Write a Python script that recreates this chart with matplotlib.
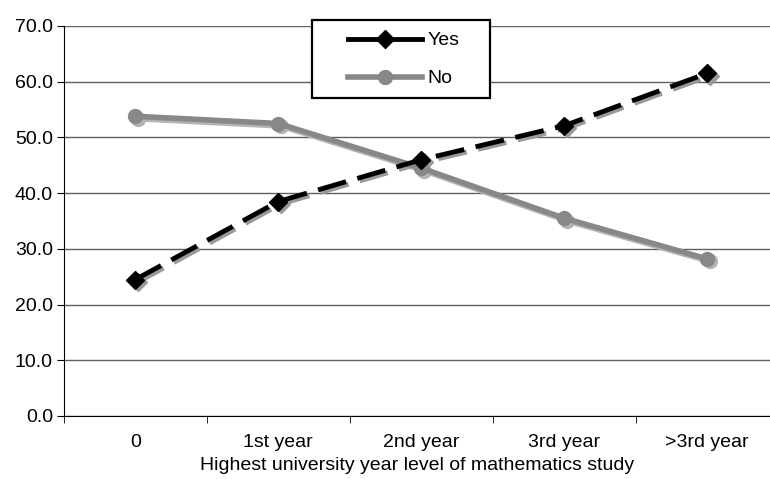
import matplotlib
matplotlib.use("Agg")
import matplotlib.pyplot as plt
from matplotlib.transforms import ScaledTranslation
from matplotlib.patches import Rectangle

categories = ["0", "1st year", "2nd year", "3rd year", ">3rd year"]
yes_vals = [24.5, 38.5, 46.0, 52.1, 61.5]
no_vals = [53.8, 52.5, 44.5, 35.5, 28.2]

plt.rcParams['font.family'] = ['Liberation Sans', 'DejaVu Sans']
FS = 14

W, H = 770, 479
fig = plt.figure(figsize=(W/100, H/100), dpi=100)
ax = fig.add_axes([64/W, 1 - 416/H, 706/W, 390/H])

x = list(range(len(categories)))
off = ScaledTranslation(2.5/100, -2.5/100, fig.dpi_scale_trans)
DASH = (0, (6, 2.4))

# shadows
ax.plot(x, yes_vals, color='#999999', lw=3.5, ls=DASH, marker='D', ms=9,
        markerfacecolor='#999999', markeredgecolor='#999999', transform=ax.transData + off, zorder=3)
ax.plot(x, no_vals, color='#b4b4b4', lw=4, marker='o', ms=10,
        markerfacecolor='#b4b4b4', markeredgecolor='#b4b4b4', transform=ax.transData + off, zorder=2)

ax.plot(x, no_vals, color='#888888', lw=4, marker='o', ms=10,
        markerfacecolor='#888888', markeredgecolor='#888888', label='No', zorder=3.5)
ax.plot(x, yes_vals, color='black', lw=3.5, ls=DASH, marker='D', ms=9,
        markerfacecolor='black', markeredgecolor='black', label='Yes', zorder=4)

ax.set_xlim(-0.5, 4.44)
ax.set_ylim(0, 70)
ax.set_yticks(range(0, 71, 10))
ax.set_yticklabels([f"{v:.1f}" for v in range(0, 71, 10)], fontsize=FS)
ax.set_xticks(x)
ax.set_xticklabels(categories, fontsize=FS)
ax.set_xticks([i - 0.5 for i in range(5)], minor=True)
ax.tick_params(axis='x', which='major', length=0, pad=13)
ax.tick_params(axis='x', which='minor', length=5, direction='out', color='black')
ax.tick_params(axis='y', length=5, direction='out', color='black', pad=3)
ax.yaxis.grid(True, color='#606060', lw=1)
ax.set_axisbelow(True)
for s in ['top', 'right']:
    ax.spines[s].set_visible(False)
ax.spines['left'].set_color('black')
ax.spines['bottom'].set_color('black')
ax.set_xlabel("Highest university year level of mathematics study", fontsize=FS, labelpad=4)

# legend frame (pixel box 312..490 x 20..98)
ax_x0 = 64
def ax_coords(px, py):
    return (px - ax_x0) / 706, (416 - py) / 390
bx0, by0 = ax_coords(312, 98)
bx1, by1 = ax_coords(490, 20)
frame = Rectangle((bx0, by0), bx1 - bx0, by1 - by0, transform=ax.transAxes,
                  facecolor='white', edgecolor='black', lw=1.6, zorder=9, clip_on=False)
ax.add_patch(frame)

handles, labels = ax.get_legend_handles_labels()
order = [1, 0]
lx, ly = ax_coords(342, 26)
leg = ax.legend([handles[i] for i in order], [labels[i] for i in order],
                loc='upper left', bbox_to_anchor=(lx, ly), frameon=False,
                handlelength=3.8, borderpad=0.3, labelspacing=1.05,
                handletextpad=0.3, fontsize=FS, borderaxespad=0)
for h in leg.get_lines():
    h.set_linestyle('-')
leg.set_zorder(10)

fig.savefig("out.png", dpi=100)
